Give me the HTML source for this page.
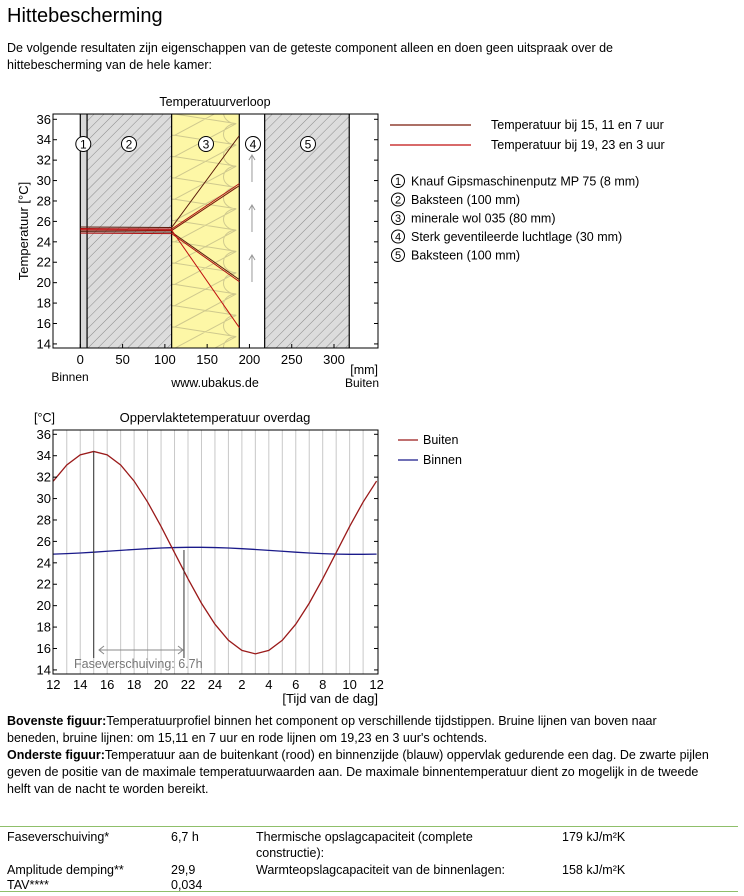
<!DOCTYPE html>
<html><head><meta charset="utf-8"><style>
body{margin:0;width:744px;height:896px;background:#fff;font-family:"Liberation Sans",sans-serif;color:#000;position:relative;overflow:hidden}
.a{position:absolute;white-space:nowrap}
p.t{position:absolute;left:7px;margin:0;font-size:12.5px;line-height:17px;width:735px;white-space:nowrap}
svg text{font-family:"Liberation Sans",sans-serif}
</style></head><body>
<div class="a" style="left:7px;top:5px;font-size:20px">Hittebescherming</div>
<p class="t" style="top:40px">De volgende resultaten zijn eigenschappen van de geteste component alleen en doen geen uitspraak over de<br>hittebescherming van de hele kamer:</p>

<svg id="s" width="744" height="896" style="position:absolute;left:0;top:0">
<defs>
<pattern id="h" width="7" height="7" patternUnits="userSpaceOnUse" patternTransform="rotate(45)"><rect width="7" height="7" fill="#dcdcdc"/><line x1="0" y1="0" x2="0" y2="7" stroke="#8a8a8a" stroke-width="1"/></pattern>
<clipPath id="ins"><rect x="171.6" y="114" width="68.4" height="234"/></clipPath>
</defs>
<g id="top"></g><g id="bot"></g>
</svg>

<p class="t" style="top:713px"><b>Bovenste figuur:</b>Temperatuurprofiel binnen het component op verschillende tijdstippen. Bruine lijnen van boven naar<br>beneden, bruine lijnen: om 15,11 en 7 uur en rode lijnen om 19,23 en 3 uur's ochtends.<br><b>Onderste figuur:</b>Temperatuur aan de buitenkant (rood) en binnenzijde (blauw) oppervlak gedurende een dag. De zwarte pijlen<br>geven de positie van de maximale temperatuurwaarden aan. De maximale binnentemperatuur dient zo mogelijk in de tweede<br>helft van de nacht te worden bereikt.</p>

<div class="a" style="left:0;top:826px;width:738px;border-top:1px solid #8fbf6a"></div>
<div class="a" style="left:0;top:891px;width:738px;border-top:1px solid #8fbf6a"></div>
<div style="position:absolute;top:827px;left:0;font-size:12.5px;line-height:16px">
<div class="a" style="left:7px;top:2px">Faseverschuiving*</div>
<div class="a" style="left:171px;top:2px">6,7 h</div>
<div class="a" style="left:256px;top:2px">Thermische opslagcapaciteit (complete<br>constructie):</div>
<div class="a" style="left:562px;top:2px">179 kJ/m²K</div>
<div class="a" style="left:7px;top:35px">Amplitude demping**</div>
<div class="a" style="left:171px;top:35px">29,9</div>
<div class="a" style="left:256px;top:35px">Warmteopslagcapaciteit van de binnenlagen:</div>
<div class="a" style="left:562px;top:35px">158 kJ/m²K</div>
<div class="a" style="left:7px;top:50px">TAV****</div>
<div class="a" style="left:171px;top:50px">0,034</div>
</div>

<script>
var NS="http://www.w3.org/2000/svg";
function el(g,n,a,t){var e=document.createElementNS(NS,n);for(var k in a)e.setAttribute(k,a[k]);if(t!=null)e.textContent=t;g.appendChild(e);return e;}
var T=document.getElementById("top");
var X=function(mm){return 80.3+mm*0.8457}, Y=function(t){return 119.3+(36-t)*10.21};
el(T,"rect",{x:X(0),y:114,width:X(8)-X(0),height:234,fill:"#d8d8d8"});
el(T,"rect",{x:X(8),y:114,width:X(108)-X(8),height:234,fill:"url(#h)"});
el(T,"rect",{x:X(108),y:114,width:X(188)-X(108),height:234,fill:"#fdf7a6"});
// insulation loops
var L=X(108)+3,R=X(188)-3,d="",p=21.3,r=p/2;
for(var i=-1;i<12;i++){var y0=114+i*p;
 d+="M"+L+","+y0+" L"+R+","+(y0+r*0.9)+" ";
 d+="M"+R+","+(y0+r*0.9-p)+" L"+L+","+(y0+p)+" ";
 d+="M"+L+","+y0+" A"+(r*0.6)+","+(r*0.5)+" 0 0 0 "+L+","+(y0+p)+" ";
 d+="M"+R+","+(y0+r*0.9)+" A"+(r*0.6)+","+(r*0.5)+" 0 0 1 "+R+","+(y0+r*0.9-p)+" ";}
el(T,"path",{d:d,fill:"none",stroke:"#cfc98e","stroke-width":1,"clip-path":"url(#ins)"});
el(T,"rect",{x:X(218),y:114,width:X(318)-X(218),height:234,fill:"url(#h)"});
[0,8,108,188,218,318].forEach(function(m){el(T,"line",{x1:X(m),y1:114,x2:X(m),y2:348,stroke:"#000","stroke-width":1.2});});
[[155,182],[205,232],[255,282]].forEach(function(p){var x=X(203);el(T,"line",{x1:x,y1:p[1],x2:x,y2:p[0],stroke:"#999"});el(T,"path",{d:"M"+(x-3)+","+(p[0]+5)+" L"+x+","+p[0]+" L"+(x+3)+","+(p[0]+5),fill:"none",stroke:"#999"});});
[[83.3,"1"],[129,"2"],[206,"3"],[253,"4"],[308,"5"]].forEach(function(c){el(T,"circle",{cx:c[0],cy:144,r:7.5,fill:"#fff",stroke:"#000"});el(T,"text",{x:c[0],y:148.5,"font-size":12,"text-anchor":"middle"},c[1]);});
[[25.45,34.4,"#5a1a0a"],[25.3,29.7,"#b01010"],[25.15,29.5,"#7a1a0a"],[25.0,20.3,"#5a1a0a"],[24.85,20.1,"#b01010"],[25.2,15.6,"#c01010"]].forEach(function(l){
el(T,"polyline",{points:X(0)+","+Y(l[0])+" "+X(108)+","+Y(l[0]-0.05)+" "+X(188)+","+Y(l[1]),fill:"none",stroke:l[2],"stroke-width":1});});
el(T,"rect",{x:53,y:114,width:325,height:234,fill:"none",stroke:"#000"});
for(var t=14;t<=36;t+=2){var y=Y(t);el(T,"line",{x1:53,y1:y,x2:57,y2:y,stroke:"#000"});el(T,"line",{x1:374,y1:y,x2:378,y2:y,stroke:"#000"});el(T,"text",{x:51,y:y+4.5,"font-size":13,"text-anchor":"end"},t);}
for(var m=0;m<=300;m+=50){var x=X(m);el(T,"line",{x1:x,y1:348,x2:x,y2:344,stroke:"#000"});el(T,"text",{x:x,y:364,"font-size":13,"text-anchor":"middle"},m);}
el(T,"text",{x:215,y:106,"font-size":12.5,"text-anchor":"middle"},"Temperatuurverloop");
el(T,"text",{x:0,y:0,"font-size":13,"text-anchor":"middle",transform:"translate(28,231) rotate(-90)"},"Temperatuur [°C]");
el(T,"text",{x:70,y:381,"font-size":12,"text-anchor":"middle"},"Binnen");
el(T,"text",{x:215,y:387,"font-size":12.5,"text-anchor":"middle"},"www.ubakus.de");
el(T,"text",{x:378,y:374,"font-size":12.5,"text-anchor":"end"},"[mm]");
el(T,"text",{x:379,y:387,"font-size":12,"text-anchor":"end"},"Buiten");
el(T,"line",{x1:390,y1:125,x2:471,y2:125,stroke:"#7a1a0a","stroke-width":1.2});
el(T,"line",{x1:390,y1:145,x2:471,y2:145,stroke:"#c01010","stroke-width":1.2});
el(T,"text",{x:491,y:129,"font-size":12.5},"Temperatuur bij 15, 11 en 7 uur");
el(T,"text",{x:491,y:149,"font-size":12.5},"Temperatuur bij 19, 23 en 3 uur");
["Knauf Gipsmaschinenputz MP 75 (8 mm)","Baksteen (100 mm)","minerale wol 035 (80 mm)","Sterk geventileerde luchtlage (30 mm)","Baksteen (100 mm)"].forEach(function(s,i){var y=181+i*18.5;el(T,"circle",{cx:398,cy:y,r:6.5,fill:"#fff",stroke:"#000"});el(T,"text",{x:398,y:y+4,"font-size":11,"text-anchor":"middle"},i+1);el(T,"text",{x:411,y:y+4.5,"font-size":12.5},s);});

var B=document.getElementById("bot");
var bx=function(h){return 53.3+h*13.47}, by=function(t){return 434.3+(36-t)*10.71};
for(var h=1;h<24;h++)el(B,"line",{x1:bx(h),y1:430,x2:bx(h),y2:674,stroke:"#c8c8c8"});
var pr="",pb="";
for(var h=0;h<=24;h+=1){var tt=h+12;var r=24.95+9.45*Math.cos(2*Math.PI*(tt-15)/24);var b=25.12+0.33*Math.cos(2*Math.PI*(tt-22.5)/24);pr+=bx(h)+","+by(r)+" ";pb+=bx(h)+","+by(b)+" ";}
el(B,"polyline",{points:pb,fill:"none",stroke:"#1a1a8a","stroke-width":1.3});
el(B,"polyline",{points:pr,fill:"none",stroke:"#9a1a1a","stroke-width":1.3});
el(B,"line",{x1:bx(3),y1:by(34.4),x2:bx(3),y2:658,stroke:"#333"});
el(B,"line",{x1:bx(9.7),y1:550,x2:bx(9.7),y2:658,stroke:"#333"});
el(B,"line",{x1:99,y1:650,x2:183,y2:650,stroke:"#888"});
el(B,"path",{d:"M104,646 L99,650 L104,654 M178,646 L183,650 L178,654",fill:"none",stroke:"#888"});
el(B,"text",{x:74,y:668,"font-size":12.5,fill:"#777"},"Faseverschuiving: 6.7h");
el(B,"rect",{x:53,y:430,width:325,height:244,fill:"none",stroke:"#000"});
for(var t=14;t<=36;t+=2){var y=by(t);el(B,"line",{x1:53,y1:y,x2:57,y2:y,stroke:"#000"});el(B,"line",{x1:374,y1:y,x2:378,y2:y,stroke:"#000"});el(B,"text",{x:51,y:y+4.5,"font-size":13,"text-anchor":"end"},t);}
var lab=[12,14,16,18,20,22,24,2,4,6,8,10,12];
lab.forEach(function(l,i){el(B,"text",{x:bx(i*2),y:689,"font-size":13,"text-anchor":"middle"},l);});
el(B,"text",{x:378,y:703,"font-size":13,"text-anchor":"end"},"[Tijd van de dag]");
el(B,"text",{x:34,y:422,"font-size":12.5},"[°C]");
el(B,"text",{x:215,y:422,"font-size":13,"text-anchor":"middle"},"Oppervlaktetemperatuur overdag");
el(B,"line",{x1:398,y1:440,x2:418,y2:440,stroke:"#9a1a1a","stroke-width":1.3});
el(B,"line",{x1:398,y1:460,x2:418,y2:460,stroke:"#1a1a8a","stroke-width":1.3});
el(B,"text",{x:423,y:444,"font-size":12.5},"Buiten");
el(B,"text",{x:423,y:464,"font-size":12.5},"Binnen");
</script>
</body></html>
